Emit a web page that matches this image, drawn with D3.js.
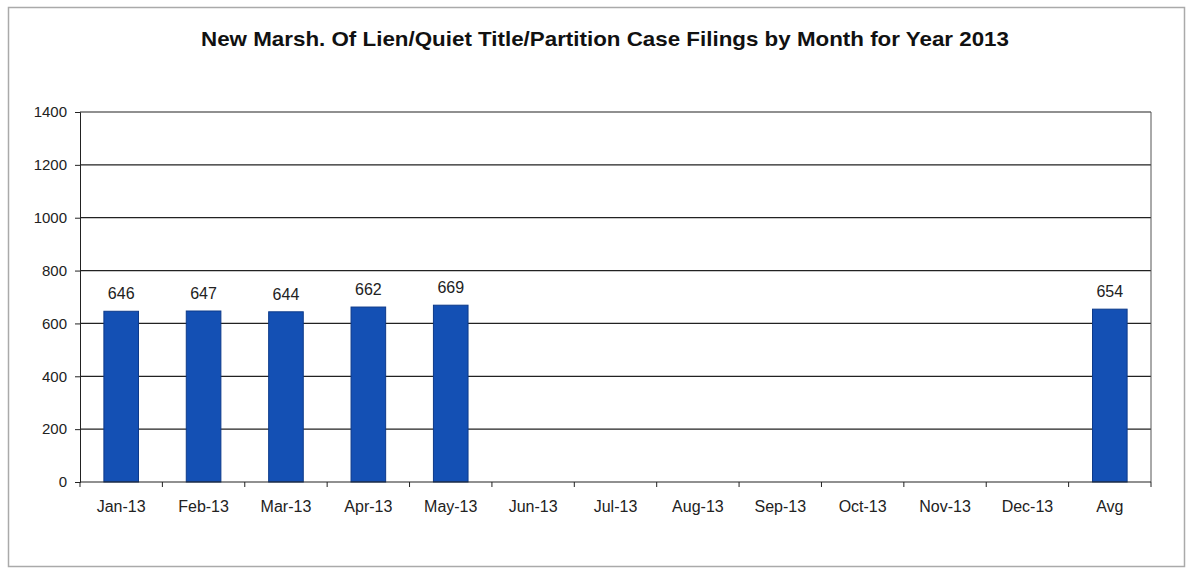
<!DOCTYPE html>
<html><head><meta charset="utf-8">
<script src="https://cdn.jsdelivr.net/npm/d3@7"></script>
<style>body{margin:0;background:#fff}svg{display:block}</style>
</head><body>
<script>
const categories = ["Jan-13","Feb-13","Mar-13","Apr-13","May-13","Jun-13","Jul-13","Aug-13","Sep-13","Oct-13","Nov-13","Dec-13","Avg"];
const values = [646,647,644,662,669,null,null,null,null,null,null,null,654];
const yTicks = [0,200,400,600,800,1000,1200,1400];
const title = "New Marsh. Of Lien/Quiet Title/Partition Case Filings by Month for Year 2013";

(function(){
const W = 1192, H = 571;
const svg = d3.select("body").append("svg").attr("width", W).attr("height", H);
svg.append("rect").attr("x",8.5).attr("y",7.5).attr("width",1176).attr("height",559)
  .attr("fill","#fff").attr("stroke","#aaa").attr("stroke-width",1.5);

const pl = 80, pr = 1151, pt = 112, pb = 482;
const x = d3.scaleBand().domain(categories).range([pl,pr]).paddingInner(0.58).paddingOuter(0.29);
const xb = d3.scaleBand().domain(categories).range([pl,pr]);
const y = d3.scaleLinear().domain([0,1400]).range([pb,pt]);

svg.append("text").attr("x",605).attr("y",46).attr("text-anchor","middle")
  .attr("font-family","Liberation Sans, Arial, sans-serif").attr("font-weight","bold")
  .attr("font-size",21).attr("textLength",808).attr("lengthAdjust","spacingAndGlyphs")
  .attr("fill","#111").text(title);

svg.append("g").selectAll("line").data(yTicks.filter(d=>d>0)).join("line")
  .attr("x1",pl).attr("x2",pr).attr("y1",d=>y(d)).attr("y2",d=>y(d))
  .attr("stroke","#222").attr("stroke-width",1.2);
svg.append("line").attr("x1",pr).attr("x2",pr).attr("y1",pt).attr("y2",pb).attr("stroke","#555").attr("stroke-width",1);

const data = categories.map((c,i)=>({c,v:values[i]})).filter(d=>d.v!=null);
svg.append("g").selectAll("rect").data(data).join("rect")
  .attr("x",d=>x(d.c)).attr("width",x.bandwidth()).attr("y",d=>y(d.v)).attr("height",d=>y(0)-y(d.v))
  .attr("fill","#1450b4").attr("stroke","#0d3a8a").attr("stroke-width",1);

svg.append("g").selectAll("text").data(data).join("text")
  .attr("x",d=>x(d.c)+x.bandwidth()/2).attr("y",d=>y(d.v)-12).attr("text-anchor","middle")
  .attr("font-family","Liberation Sans, Arial, sans-serif").attr("font-size",16).attr("fill","#222")
  .text(d=>d.v);

const ya = svg.append("g").attr("transform",`translate(${pl},0)`)
  .call(d3.axisLeft(y).tickValues(yTicks).tickFormat(d3.format("d")).tickSize(5).tickPadding(8));
ya.select(".domain").attr("stroke","#222");
ya.selectAll("line").attr("stroke","#222");
ya.selectAll("text").attr("font-family","Liberation Sans, Arial, sans-serif").attr("font-size",15).attr("fill","#222");

const xa = svg.append("g").attr("transform",`translate(0,${pb})`);
xa.append("line").attr("x1",pl).attr("x2",pr).attr("stroke","#222").attr("stroke-width",1.2);
xa.selectAll("line.tk").data(d3.range(categories.length+1)).join("line").attr("class","tk")
  .attr("x1",i=>pl+i*xb.step()).attr("x2",i=>pl+i*xb.step()).attr("y1",0).attr("y2",5).attr("stroke","#222");
xa.selectAll("text").data(categories).join("text")
  .attr("x",d=>xb(d)+xb.bandwidth()/2).attr("y",30).attr("text-anchor","middle")
  .attr("font-family","Liberation Sans, Arial, sans-serif").attr("font-size",16).attr("fill","#222").text(d=>d);
})();
</script>
</body></html>
